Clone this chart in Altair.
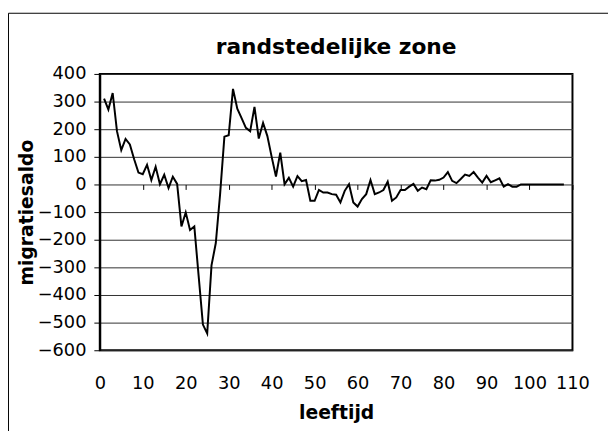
import altair as alt
import pandas as pd

ages = list(range(1, 109))
saldo = [
    311, 271, 331, 193, 124, 165, 145, 91, 43, 37,      # 1-10
    71, 16, 64, 1, 35, -13, 28, 2, -152, -101,          # 11-20
    -165, -152, -330, -507, -539, -293, -212, -35, 173, 178,  # 21-30
    346, 274, 240, 205, 193, 281, 166, 223, 175, 100,   # 31-40
    29, 115, 1, 24, -8, 30, 12, 16, -59, -59,           # 41-50
    -20, -29, -29, -35, -37, -65, -23, 1, -65, -80,     # 51-60
    -53, -35, 16, -35, -29, -20, 10, -59, -47, -20,     # 61-70
    -20, -8, 2, -23, -11, -17, 15, 14, 17, 25,          # 71-80
    45, 13, 5, 20, 36, 31, 45, 25, 7, 31,               # 81-90
    8, 15, 22, -8, 1, -8, -8, 0, 0, 0,                  # 91-100
    0, 0, 0, 0, 0, 0, 0, 0,                             # 101-108
]
x_ticks = list(range(0, 111, 10))
y_ticks = list(range(-600, 401, 100))

df = pd.DataFrame({"leeftijd": ages, "migratiesaldo": saldo})

FONT = "DejaVu Sans"

xscale = alt.Scale(domain=[0, 110], nice=False, zero=False)
yscale = alt.Scale(domain=[-600, 400], nice=False)

y_axis = alt.Axis(values=y_ticks, title="migratiesaldo", grid=True,
                  gridColor="#303030", gridWidth=1, gridOpacity=1,
                  domainColor="black", domainWidth=2,
                  tickColor="black", tickSize=6, tickWidth=1,
                  labelPadding=8, labelFont=FONT, labelFontSize=18,
                  labelColor="black", labelFlush=False,
                  titleFont=FONT, titleFontSize=19,
                  titleFontWeight="bold", titleColor="black",
                  titlePadding=1)

border = alt.Chart(pd.DataFrame({"a": [0]})).mark_rect(
    filled=False, stroke="black", strokeWidth=1
).encode(
    x=alt.value(-92.5), x2=alt.value(700), y=alt.value(-61.5), y2=alt.value(600)
)

line = alt.Chart(df).mark_line(color="black", strokeWidth=2).encode(
    x=alt.X("leeftijd:Q", scale=xscale,
            axis=alt.Axis(values=x_ticks, title="leeftijd", grid=False,
                          domain=False, ticks=False, labelPadding=25,
                          labelOverlap=False, labelFlush=False,
                          labelFont=FONT, labelFontSize=18, labelColor="black",
                          titleFont=FONT, titleFontSize=19, titleFontWeight="bold",
                          titleColor="black", titlePadding=11)),
    y=alt.Y("migratiesaldo:Q", scale=yscale, axis=y_axis),
)

tick_layer = alt.Chart(df).mark_line(strokeOpacity=0).encode(
    x=alt.X("leeftijd:Q", scale=xscale,
            axis=alt.Axis(orient="bottom", offset=-168, values=x_ticks,
                          labels=False, title=None, grid=False, domain=False,
                          ticks=True, tickSize=5, tickColor="black", tickWidth=1)),
    y=alt.Y("migratiesaldo:Q", scale=yscale, axis=y_axis),
)

chart = alt.layer(border, line, tick_layer).resolve_axis(x="independent").properties(
    width=479,
    height=280,
    padding={"left": 93, "top": 64, "right": 36, "bottom": 79},
    autosize=alt.AutoSizeParams(type="none"),
    background="white",
    title=alt.TitleParams("randstedelijke zone", font=FONT, fontSize=22,
                          fontWeight="bold", color="black", offset=-47,
                          anchor="middle"),
).configure_view(stroke="black", strokeWidth=2)

chart.save("out.html", embed_options={"renderer": "svg", "actions": False})
